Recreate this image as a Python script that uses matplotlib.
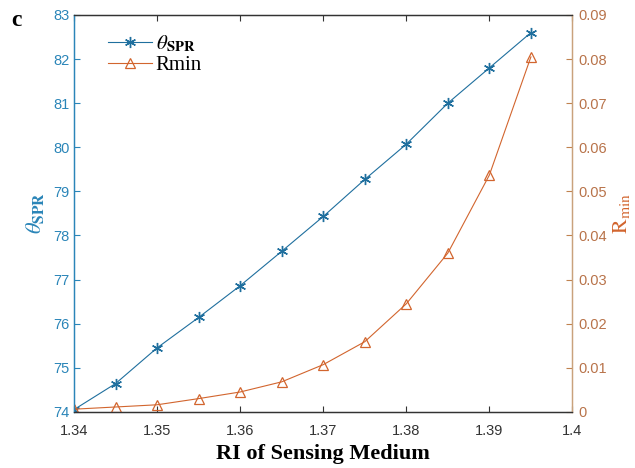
import matplotlib.pyplot as plt

# RI sweep of the sensing medium
ri = [1.340, 1.345, 1.350, 1.355, 1.360, 1.365, 1.370, 1.375, 1.380, 1.385, 1.390, 1.395]
theta_spr = [74.05, 74.64, 75.45, 76.14, 76.86, 77.64, 78.43, 79.27, 80.07, 81.00, 81.80, 82.60]
r_min = [0.0006, 0.0011, 0.0016, 0.0030, 0.0045, 0.0068, 0.0107, 0.0159, 0.0245, 0.0360, 0.0537, 0.0805]

x_ticks = [1.34, 1.35, 1.36, 1.37, 1.38, 1.39, 1.4]
x_ticklabels = ["1.34", "1.35", "1.36", "1.37", "1.38", "1.39", "1.4"]
left_ticks = [74, 75, 76, 77, 78, 79, 80, 81, 82, 83]
right_ticks = [0, 0.01, 0.02, 0.03, 0.04, 0.05, 0.06, 0.07, 0.08, 0.09]

blue = "#2a85b8"
orange = "#d2652e"
tick_font = "Liberation Sans"
serif = "Liberation Serif"
plt.rcParams["mathtext.fontset"] = "stix"

fig = plt.figure(figsize=(6.35, 4.68), dpi=100)
ax = fig.add_axes([0.1165, 0.12, 0.785, 0.848])
ax2 = ax.twinx()

l1, = ax.plot(ri, theta_spr, color="#1f6f9e", lw=0.8, marker=(6, 2, 0), ms=8,
              mew=1.0, label=r"$\theta_{\mathbf{SPR}}$")
l2, = ax2.plot(ri, r_min, color=orange, lw=0.8, marker="^", ms=7, mfc="none",
               mew=0.9, label="Rmin")

ax.set_xlim(1.34, 1.4)
ax.set_ylim(74, 83)
ax2.set_ylim(0, 0.09)
ax.set_xticks(x_ticks)
ax.set_xticklabels(x_ticklabels)
ax.set_yticks(left_ticks)
ax2.set_yticks(right_ticks)
ax2.set_yticklabels(["0"] + [f"{v:.2f}" for v in right_ticks[1:]])

ax.tick_params(axis="x", direction="in", top=True, length=4, width=0.8,
               colors="#333333", labelsize=10.5, pad=9)
ax.tick_params(axis="y", direction="in", length=4, width=0.8,
               colors=blue, labelsize=10.5, pad=3)
ax2.tick_params(axis="y", direction="in", length=4, width=0.8,
                colors="#c0824f", labelsize=10.5, pad=4)
for lab in ax.get_xticklabels() + ax.get_yticklabels() + ax2.get_yticklabels():
    lab.set_fontfamily(tick_font)
for lab in ax2.get_yticklabels():
    lab.set_color("#b8734a")

for a in (ax, ax2):
    a.spines["top"].set_color("#333333")
    a.spines["bottom"].set_color("#333333")
    a.spines["left"].set_color(blue)
    a.spines["right"].set_color("#c9a27c")
    for s in a.spines.values():
        s.set_linewidth(0.9)

ax.set_xlabel("RI of Sensing Medium", fontfamily=serif, fontweight="bold",
              fontsize=16, labelpad=4)
ax.set_ylabel(r"$\theta_{\mathbf{SPR}}$", color=blue, fontsize=16, labelpad=5)
ax2.set_ylabel(r"$\mathrm{R_{min}}$", color=orange, fontsize=16, labelpad=3)

fig.text(0.018, 0.945, "c", fontfamily=serif, fontweight="bold", fontsize=17)

leg = ax.legend(handles=[l1, l2], loc="upper left", frameon=False,
                bbox_to_anchor=(0.03, 1.0), handlelength=2.15, handletextpad=0.15,
                labelspacing=0.05, prop={"family": serif, "size": 15})

fig.savefig("out.png", dpi=100)
